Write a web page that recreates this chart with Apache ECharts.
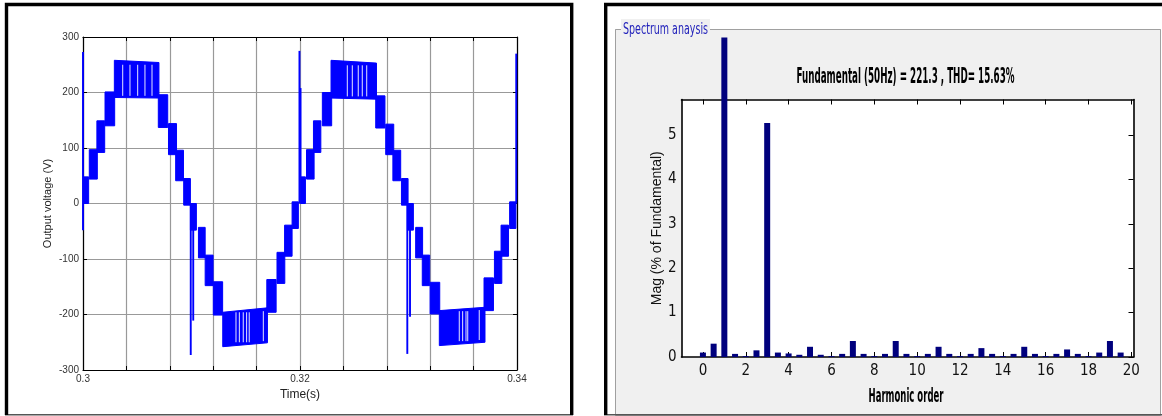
<!DOCTYPE html>
<html>
 <head>
  <meta charset="utf-8" />
  <title>Output voltage and spectrum</title>
  <script src="https://cdn.jsdelivr.net/npm/echarts@6/dist/echarts.min.js"></script>
  <style>
   html, body { margin: 0; padding: 0; background: #fff; }
   #main { width: 1162px; height: 416px; }
  </style>
 </head>
 <body>
  <div id="main"></div>
  <script type="text/javascript">

    // ---- waveform (left panel) ----
    // each band: [tStart, tEnd, low, high] or [tStart, tEnd, lowStart, highStart, lowEnd, highEnd]
    var cycle1Bands = [
        [0.30005, 0.30052, 0, 48],
        [0.30058, 0.30132, 44, 97],
        [0.30128, 0.30200, 92, 149],
        [0.30203, 0.30292, 140, 201],
        [0.30289, 0.30700, 191, 258, 190, 254],
        [0.30694, 0.30781, 137, 196],
        [0.30788, 0.30862, 88, 144],
        [0.30854, 0.30926, 41, 96],
        [0.30928, 0.30990, -3, 45],
        [0.30990, 0.31045, -48, 0],
        [0.31064, 0.31126, -98, -43],
        [0.31126, 0.31199, -148, -93],
        [0.31201, 0.31287, -201, -141],
        [0.31288, 0.31700, -258, -196, -251, -188],
        [0.31694, 0.31780, -196, -137],
        [0.31788, 0.31860, -144, -88],
        [0.31858, 0.31927, -95, -39],
        [0.31927, 0.31985, -45, 3]
    ];
    var cycle2Bands = [
        [0.32003, 0.32050, 0, 48],
        [0.32060, 0.32130, 44, 97],
        [0.32124, 0.32192, 92, 149],
        [0.32206, 0.32292, 140, 200],
        [0.32286, 0.32705, 190, 258, 188, 253],
        [0.32698, 0.32783, 136, 194],
        [0.32790, 0.32864, 88, 143],
        [0.32856, 0.32928, 41, 96],
        [0.32935, 0.32996, -3, 45],
        [0.32990, 0.33045, -48, 0],
        [0.33066, 0.33130, -98, -43],
        [0.33127, 0.33195, -148, -93],
        [0.33199, 0.33288, -199, -142],
        [0.33284, 0.33705, -256, -193, -250, -187],
        [0.33696, 0.33783, -193, -134],
        [0.33792, 0.33860, -144, -86],
        [0.33853, 0.33922, -95, -39],
        [0.33932, 0.33990, -45, 3]
    ];
    // switching spikes: [t, low, high]
    var spikes = [
        [0.30000, -48, 273],
        [0.30993, -273, 0],
        [0.31016, -211, -45],
        [0.31995, 0, 275],
        [0.32005, 48, 208],
        [0.32989, -271, 0],
        [0.33014, -204, -45],
        [0.33993, 0, 270]
    ];
    // thin white gaps inside the peak bands: [t, low, high]
    var gaps = [
        [0.30366, 194, 250], [0.30433, 194, 250], [0.30504, 194, 250], [0.30571, 194, 250], [0.30636, 194, 250],
        [0.31410, -250, -196], [0.31441, -250, -196], [0.31477, -250, -196], [0.31508, -250, -196], [0.31532, -250, -196], [0.31662, -248, -194],
        [0.32436, 193, 249], [0.32482, 193, 249], [0.32537, 193, 249], [0.32574, 193, 249], [0.32615, 193, 249],
        [0.33468, -248, -194], [0.33499, -248, -194], [0.33530, -248, -194], [0.33546, -248, -194], [0.33652, -246, -192]
    ];

    // ---- spectrum (right panel) ----
    var harmonicOrders = [0, 0.5, 1, 1.5, 2, 2.5, 3, 3.5, 4, 4.5, 5, 5.5, 6, 6.5, 7, 7.5, 8, 8.5, 9, 9.5,
                          10, 10.5, 11, 11.5, 12, 12.5, 13, 13.5, 14, 14.5, 15, 15.5, 16, 16.5, 17, 17.5, 18, 18.5, 19, 19.5];
    var magnitudes = [0.1, 0.3, 100, 0.07, 0.02, 0.15, 5.27, 0.1, 0.08, 0.05, 0.23, 0.05, 0.02, 0.07, 0.36, 0.07, 0.02, 0.07, 0.36, 0.07,
                      0.02, 0.07, 0.23, 0.07, 0.02, 0.07, 0.2, 0.07, 0.02, 0.07, 0.23, 0.07, 0.02, 0.07, 0.17, 0.07, 0.02, 0.1, 0.36, 0.1];
    var harmonicTicks = [0, 2, 4, 6, 8, 10, 12, 14, 16, 18, 20];
    var magTicks = [0, 1, 2, 3, 4, 5];

    var titleText = 'Fundamental (50Hz) = 221.3 , THD= 15.63%';

    var blue = '#0000ff';
    var navy = '#00007d';
    var narrow = "'Liberation Sans Narrow', 'DejaVu Sans Condensed', 'Arial Narrow', sans-serif";
    var arial = "'Liberation Sans', Arial, sans-serif";

    var measureCtx = document.createElement('canvas').getContext('2d');
    function fitScale(text, font, width) {
        measureCtx.font = font;
        return width / measureCtx.measureText(text).width;
    }

    function fullBand(b) {
        return b.length === 4 ? [b[0], b[1], b[2], b[3], b[2], b[3]] : b;
    }

    function renderBand(params, api) {
        var p1 = api.coord([api.value(0), api.value(2)]);
        var p2 = api.coord([api.value(0), api.value(3)]);
        var p3 = api.coord([api.value(1), api.value(5)]);
        var p4 = api.coord([api.value(1), api.value(4)]);
        return {
            type: 'polygon',
            shape: { points: [p1, p2, p3, p4] },
            style: { fill: blue, stroke: blue, lineWidth: 1 }
        };
    }

    function lineRenderer(color, width) {
        return function (params, api) {
            var a = api.coord([api.value(0), api.value(1)]);
            var b = api.coord([api.value(0), api.value(2)]);
            return {
                type: 'line',
                shape: { x1: a[0], y1: a[1], x2: b[0], y2: b[1] },
                style: { stroke: color, lineWidth: width }
            };
        };
    }

    var bandData = cycle1Bands.concat(cycle2Bands).map(fullBand);
    var barData = harmonicOrders.map(function (h, i) { return [h, magnitudes[i]]; });

    var titleFont = 'bold 21px ' + narrow;
    var xNameFont = 'bold 20px ' + narrow;
    var groupFont = '16px ' + narrow;

    var myChart = echarts.init(document.getElementById('main'));

    var option = {
        animation: false,
        grid: [
            { left: 83, top: 37, width: 434, height: 333, show: true, backgroundColor: '#fff', borderWidth: 0 },
            { left: 681.5, top: 99.5, width: 452, height: 257.5, show: true, backgroundColor: '#fff', borderWidth: 0 }
        ],
        xAxis: [
            {
                gridIndex: 0, type: 'value', min: 0.3, max: 0.34, interval: 0.004,
                name: 'Time(s)', nameLocation: 'middle', nameGap: 16,
                nameTextStyle: { fontFamily: arial, fontSize: 12, color: '#222' },
                axisLine: { onZero: false, lineStyle: { color: '#000', width: 1.2 } },
                axisTick: { inside: true, length: 4, lineStyle: { color: '#000' } },
                splitLine: { show: true, lineStyle: { color: '#999', width: 1.2 } },
                axisLabel: {
                    fontFamily: arial, fontSize: 10, color: '#333', margin: 4,
                    formatter: function (v) {
                        var k = Math.round(v * 1000);
                        return (k % 20 === 0) ? String(Number(v.toFixed(2))) : '';
                    }
                }
            },
            {
                gridIndex: 0, type: 'value', position: 'top', min: 0.3, max: 0.34, interval: 0.004,
                axisLine: { onZero: false, lineStyle: { color: '#000', width: 1.2 } },
                axisTick: { inside: true, length: 4, lineStyle: { color: '#000' } },
                splitLine: { show: false },
                axisLabel: { show: false }
            },
            {
                gridIndex: 1, type: 'value', min: -1, max: 20.1,
                axisLine: { onZero: false, lineStyle: { color: '#000', width: 1.6 } },
                axisTick: { inside: true, length: 5, customValues: harmonicTicks, lineStyle: { color: '#000' } },
                splitLine: { show: false },
                axisLabel: { customValues: harmonicTicks, fontFamily: narrow, fontSize: 15, color: '#111', margin: 7 }
            },
            {
                gridIndex: 1, type: 'value', position: 'top', min: -1, max: 20.1,
                axisLine: { onZero: false, lineStyle: { color: '#000', width: 1.6 } },
                axisTick: { inside: true, length: 5, customValues: harmonicTicks, lineStyle: { color: '#000' } },
                splitLine: { show: false },
                axisLabel: { show: false }
            }
        ],
        yAxis: [
            {
                gridIndex: 0, type: 'value', min: -300, max: 300, interval: 100,
                name: 'Output voltage (V)', nameLocation: 'middle', nameGap: 30,
                nameTextStyle: { fontFamily: arial, fontSize: 11, color: '#222' },
                axisLine: { onZero: false, lineStyle: { color: '#000', width: 1.2 } },
                axisTick: { inside: true, length: 4, lineStyle: { color: '#000' } },
                splitLine: { show: true, lineStyle: { color: '#999', width: 1.2 } },
                axisLabel: { fontFamily: arial, fontSize: 10, color: '#333', margin: 4 }
            },
            {
                gridIndex: 0, type: 'value', position: 'right', min: -300, max: 300, interval: 100,
                axisLine: { onZero: false, lineStyle: { color: '#000', width: 1.2 } },
                axisTick: { inside: true, length: 4, lineStyle: { color: '#000' } },
                splitLine: { show: false },
                axisLabel: { show: false }
            },
            {
                gridIndex: 1, type: 'value', min: 0, max: 5.8,
                name: 'Mag (% of Fundamental)', nameLocation: 'middle', nameGap: 17,
                nameTextStyle: { fontFamily: arial, fontSize: 14, color: '#111' },
                axisLine: { onZero: false, lineStyle: { color: '#000', width: 1.6 } },
                axisTick: { show: false },
                splitLine: { show: false },
                axisLabel: { customValues: magTicks, fontFamily: narrow, fontSize: 15, color: '#111', margin: 5 }
            },
            {
                gridIndex: 1, type: 'value', position: 'right', min: 0, max: 5.8,
                axisLine: { onZero: false, lineStyle: { color: '#000', width: 1.6 } },
                axisTick: { inside: true, length: 5, customValues: magTicks, lineStyle: { color: '#000' } },
                splitLine: { show: false },
                axisLabel: { show: false }
            }
        ],
        series: [
            { type: 'custom', xAxisIndex: 0, yAxisIndex: 0, renderItem: renderBand, data: bandData },
            { type: 'custom', xAxisIndex: 0, yAxisIndex: 0, renderItem: lineRenderer('#ffffff', 0.9), data: gaps },
            { type: 'custom', xAxisIndex: 0, yAxisIndex: 0, renderItem: lineRenderer(blue, 1.9), data: spikes },
            {
                type: 'bar', xAxisIndex: 2, yAxisIndex: 2, data: barData, barWidth: 6, clip: false,
                itemStyle: { color: navy }
            }
        ],
        graphic: [
            // right panel groupbox background (below series)
            { type: 'rect', z: -1, shape: { x: 615.5, y: 29.5, width: 545, height: 386 },
              style: { fill: '#f0f0f0', stroke: '#a0a0a0', lineWidth: 1 } },
            // cover above the groupbox content area (fundamental bar runs off the axes)
            { type: 'rect', z: 40, shape: { x: 608, y: 0, width: 554, height: 29 }, style: { fill: '#fff' } },
            { type: 'rect', z: 40, shape: { x: 616, y: 30, width: 544, height: 7.5 }, style: { fill: '#f0f0f0' } },
            { type: 'line', z: 45, shape: { x1: 615.5, y1: 29.5, x2: 1160.5, y2: 29.5 }, style: { stroke: '#a0a0a0', lineWidth: 1 } },
            { type: 'rect', z: 46, shape: { x: 621, y: 19, width: 89, height: 17 }, style: { fill: '#f0f0f0' } },
            { type: 'text', z: 47, x: 623, y: 29.5, scaleX: fitScale('Spectrum anaysis', groupFont, 85),
              style: { text: 'Spectrum anaysis', font: groupFont, fill: '#2222bb', textAlign: 'left', textVerticalAlign: 'middle' } },
            { type: 'text', z: 50, x: 905.5, y: 78, scaleX: fitScale(titleText, titleFont, 218),
              style: { text: titleText, font: titleFont, fill: '#000', textAlign: 'center', textVerticalAlign: 'middle' } },
            { type: 'text', z: 50, x: 906, y: 397, scaleX: fitScale('Harmonic order', xNameFont, 75),
              style: { text: 'Harmonic order', font: xNameFont, fill: '#000', textAlign: 'center', textVerticalAlign: 'middle' } },
            // panel frames
            { type: 'polyline', z: 60, shape: { points: [[6.5, 415], [6.5, 4.5], [571.7, 4.5], [571.7, 415]] },
              style: { fill: null, stroke: '#000', lineWidth: 3.4 } },
            { type: 'polyline', z: 60, shape: { points: [[605.7, 415], [605.7, 4.5], [1163, 4.5]] },
              style: { fill: null, stroke: '#000', lineWidth: 3.4 } },
            { type: 'line', z: 59, shape: { x1: 5, y1: 414.8, x2: 573, y2: 414.8 }, style: { stroke: '#555', lineWidth: 1.6 } },
            { type: 'line', z: 59, shape: { x1: 604, y1: 414.8, x2: 1162, y2: 414.8 }, style: { stroke: '#555', lineWidth: 1.6 } }
        ]
    };

    myChart.setOption(option);
</script>
 </body>
</html>
